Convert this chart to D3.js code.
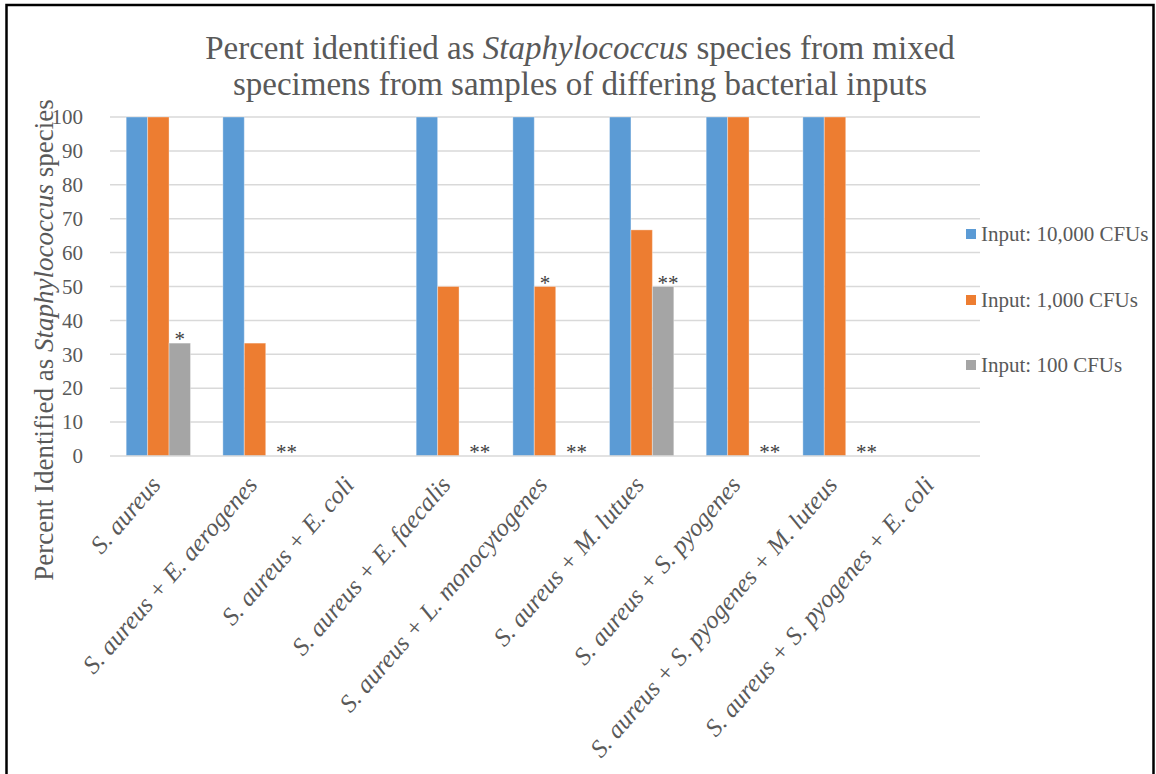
<!DOCTYPE html>
<html>
<head>
<meta charset="utf-8">
<script src="https://cdn.jsdelivr.net/npm/d3@7"></script>
<style>
  html, body { margin: 0; padding: 0; background: #fff; }
  svg { display: block; }
</style>
</head>
<body>
<svg id="chart" width="1156" height="774"></svg>
<script>
// Mixed-specimen groups (x axis)
const categories = [
  "S. aureus",
  "S. aureus + E. aerogenes",
  "S. aureus + E. coli",
  "S. aureus + E. faecalis",
  "S. aureus + L. monocytogenes",
  "S. aureus + M. lutues",
  "S. aureus + S. pyogenes",
  "S. aureus + S. pyogenes + M. luteus",
  "S. aureus + S. pyogenes + E. coli"
];

// Series names
const seriesNames = ["Input: 10,000 CFUs", "Input: 1,000 CFUs", "Input: 100 CFUs"];

// Percent identified per series, one entry per category
const input10000 = [100, 100, 0, 100, 100, 100, 100, 100, 0];
const input1000  = [100, 33.3, 0, 50, 50, 66.7, 100, 100, 0];
const input100   = [33.3, 0, 0, 0, 0, 50, 0, 0, 0];

// Y axis ticks
const yTicks = [0, 10, 20, 30, 40, 50, 60, 70, 80, 90, 100];

// Significance marks: [category index, series index, label]
const marks = [
  [0, 2, "*"],
  [1, 2, "**"],
  [3, 2, "**"],
  [4, 1, "*"],
  [4, 2, "**"],
  [5, 2, "**"],
  [6, 2, "**"],
  [7, 2, "**"]
];

const seriesValues = [input10000, input1000, input100];
const colors = ["#5B9BD5", "#ED7D31", "#A5A5A5"];
const textColor = "#595959";
const serif = "'Liberation Serif', 'Times New Roman', serif";

const svg = d3.select("#chart");

// Outer border (open at the bottom)
svg.append("path")
  .attr("d", "M6.5,774 V5 H1153.5 V774")
  .attr("fill", "none")
  .attr("stroke", "#000")
  .attr("stroke-width", 2.5);

const plot = { left: 110, right: 980, top: 117, bottom: 456 };

const x0 = d3.scaleBand()
  .domain(categories)
  .range([plot.left, plot.right])
  .paddingInner(0.335)
  .paddingOuter(0.1675);

const x1 = d3.scaleBand()
  .domain(d3.range(seriesNames.length))
  .range([0, x0.bandwidth()]);

const y = d3.scaleLinear()
  .domain([0, 100])
  .range([plot.bottom, plot.top]);

// Gridlines
svg.append("g")
  .selectAll("line")
  .data(yTicks.filter(t => t > 0))
  .join("line")
  .attr("x1", plot.left)
  .attr("x2", plot.right)
  .attr("y1", d => y(d))
  .attr("y2", d => y(d))
  .attr("stroke", "#d9d9d9")
  .attr("stroke-width", 1.5);

// Bars
const groups = svg.append("g")
  .selectAll("g")
  .data(categories)
  .join("g")
  .attr("transform", d => `translate(${x0(d)},0)`);

groups.selectAll("rect")
  .data((c, i) => seriesValues.map((vals, s) => ({ s, v: vals[i] })))
  .join("rect")
  .filter(d => d.v > 0)
  .attr("x", d => x1(d.s))
  .attr("width", x1.bandwidth())
  .attr("y", d => y(d.v))
  .attr("height", d => y(0) - y(d.v))
  .attr("fill", d => colors[d.s])
  .attr("stroke", "#ffffff")
  .attr("stroke-opacity", 0.35)
  .attr("stroke-width", 1);

// Category axis baseline
svg.append("line")
  .attr("x1", plot.left)
  .attr("x2", plot.right)
  .attr("y1", y(0))
  .attr("y2", y(0))
  .attr("stroke", "#d9d9d9")
  .attr("stroke-width", 1.5);

// Y axis labels
const yAxis = d3.axisLeft(y).tickValues(yTicks).tickSize(0).tickPadding(0);
const yg = svg.append("g")
  .attr("transform", `translate(${plot.left - 27},0)`)
  .call(yAxis);
yg.select(".domain").remove();
yg.selectAll("text")
  .attr("fill", textColor)
  .attr("font-family", serif)
  .attr("font-size", 21);

// Category labels, rotated
const xAxis = d3.axisBottom(x0).tickSize(0).tickPadding(0);
const xg = svg.append("g")
  .attr("transform", `translate(0,${plot.bottom})`)
  .call(xAxis);
xg.select(".domain").remove();
xg.selectAll("text")
  .attr("fill", textColor)
  .attr("font-family", serif)
  .attr("font-style", "italic")
  .attr("font-size", 25)
  .attr("text-anchor", "end")
  .attr("dy", "0.35em")
  .attr("transform", "translate(-3,24) rotate(-49)");

// Significance marks (labels on empty bars sit just right of the slot)
svg.append("g")
  .selectAll("text")
  .data(marks)
  .join("text")
  .attr("x", d => x0(categories[d[0]]) + x1(d[1]) + x1.bandwidth() / 2)
  .attr("dx", d => seriesValues[d[1]][d[0]] === 0 ? 10 : (d[2].length > 1 ? 5 : 0))
  .attr("y", d => y(seriesValues[d[1]][d[0]]) + 3)
  .attr("text-anchor", "middle")
  .attr("font-family", serif)
  .attr("font-size", 21)
  .attr("fill", "#404040")
  .text(d => d[2]);

// Title
const title = svg.append("text")
  .attr("text-anchor", "middle")
  .attr("font-family", serif)
  .attr("font-size", 33)
  .attr("fill", textColor);
const line1 = title.append("tspan").attr("x", 580).attr("y", 59);
line1.append("tspan").text("Percent identified as ");
line1.append("tspan").attr("font-style", "italic").text("Staphylococcus");
line1.append("tspan").text(" species from mixed");
title.append("tspan").attr("x", 580).attr("y", 95)
  .text("specimens from samples of differing bacterial inputs");

// Y axis title
const yTitle = svg.append("text")
  .attr("transform", "translate(53,340) rotate(-90)")
  .attr("text-anchor", "middle")
  .attr("font-family", serif)
  .attr("font-size", 27)
  .attr("fill", textColor);
yTitle.append("tspan").text("Percent Identified as ");
yTitle.append("tspan").attr("font-style", "italic").text("Staphylococcus");
yTitle.append("tspan").text(" species");

// Legend
const legendY = [234, 300, 365];
const legend = svg.append("g")
  .selectAll("g")
  .data(seriesNames)
  .join("g")
  .attr("transform", (d, i) => `translate(966,${legendY[i]})`);
legend.append("rect")
  .attr("x", 0)
  .attr("y", -5)
  .attr("width", 10)
  .attr("height", 10)
  .attr("fill", (d, i) => colors[i]);
legend.append("text")
  .attr("x", 15)
  .attr("dy", "0.35em")
  .attr("font-family", serif)
  .attr("font-size", 21)
  .attr("fill", textColor)
  .text(d => d);
</script>
</body>
</html>
